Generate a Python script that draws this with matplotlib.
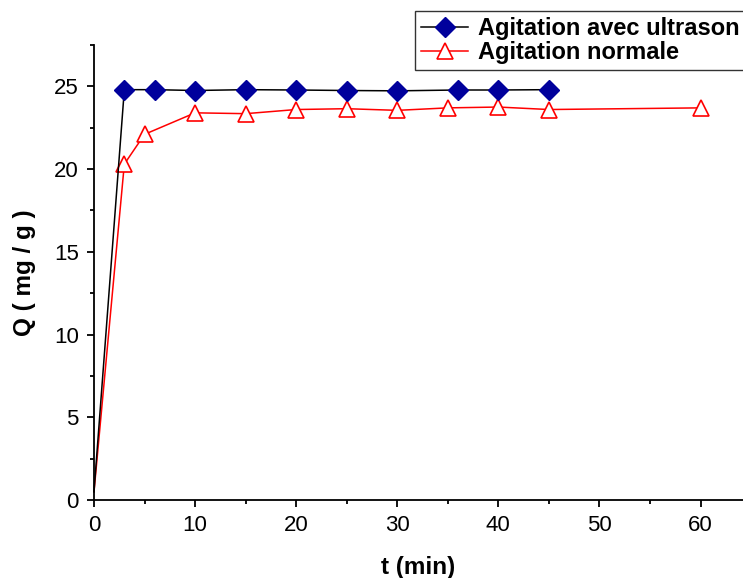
import numpy as np
import matplotlib
matplotlib.use('Agg')
import matplotlib.pyplot as plt
from matplotlib.ticker import MultipleLocator

plt.rcParams['font.family'] = ['Liberation Sans', 'DejaVu Sans']

# Data
t_ultrason = [0, 3, 6, 10, 15, 20, 25, 30, 36, 40, 45]
q_ultrason = [0.5, 24.8, 24.8, 24.75, 24.8, 24.78, 24.75, 24.73, 24.78, 24.78, 24.8]

t_normale = [0, 3, 5, 10, 15, 20, 25, 30, 35, 40, 45, 60]
q_normale = [0.5, 20.3, 22.1, 23.4, 23.35, 23.6, 23.65, 23.55, 23.7, 23.75, 23.6, 23.7]

labels = ['Agitation avec ultrason', 'Agitation normale']

fig = plt.figure(figsize=(7.43, 5.78), dpi=100)
ax = fig.add_axes([94/743, 1-500/578, 1-94/743, 455/578])

ax.plot(t_ultrason, q_ultrason, color='black', lw=1.1, marker='D', markersize=10,
        mfc='#00009C', mec='#00009C', markevery=list(range(1, len(t_ultrason))),
        label=labels[0], clip_on=False, zorder=3)
ax.plot(t_normale, q_normale, color='red', lw=1.1, marker='^', markersize=12,
        mfc='white', mec='red', mew=1.2, markevery=list(range(1, len(t_normale))),
        label=labels[1], clip_on=False, zorder=2)

ax.set_xlim(0, 64.2)
ax.set_ylim(0, 27.5)
ax.xaxis.set_major_locator(MultipleLocator(10))
ax.xaxis.set_minor_locator(MultipleLocator(5))
ax.yaxis.set_major_locator(MultipleLocator(5))
ax.yaxis.set_minor_locator(MultipleLocator(2.5))

for s in ['top', 'right']:
    ax.spines[s].set_visible(False)
for s in ['left', 'bottom']:
    ax.spines[s].set_linewidth(1.3)

ax.tick_params(which='major', direction='out', length=5, width=1.3, labelsize=16, pad=6)
ax.tick_params(which='minor', direction='out', length=3, width=1.3)

ax.set_xlabel('t (min)', fontsize=17.5, fontweight='bold', labelpad=14)
ax.set_ylabel('Q ( mg / g )', fontsize=17.5, fontweight='bold', labelpad=13)

leg = fig.legend(loc='upper left', bbox_to_anchor=(415/743, 1-11/578),
                 prop={'weight': 'bold', 'size': 17},
                 frameon=True, fancybox=False, edgecolor='black',
                 handlelength=2.0, handletextpad=0.4, borderpad=0.25,
                 labelspacing=0.05, borderaxespad=0)
leg.get_frame().set_linewidth(1.0)

fig.savefig('out.png', dpi=100)
